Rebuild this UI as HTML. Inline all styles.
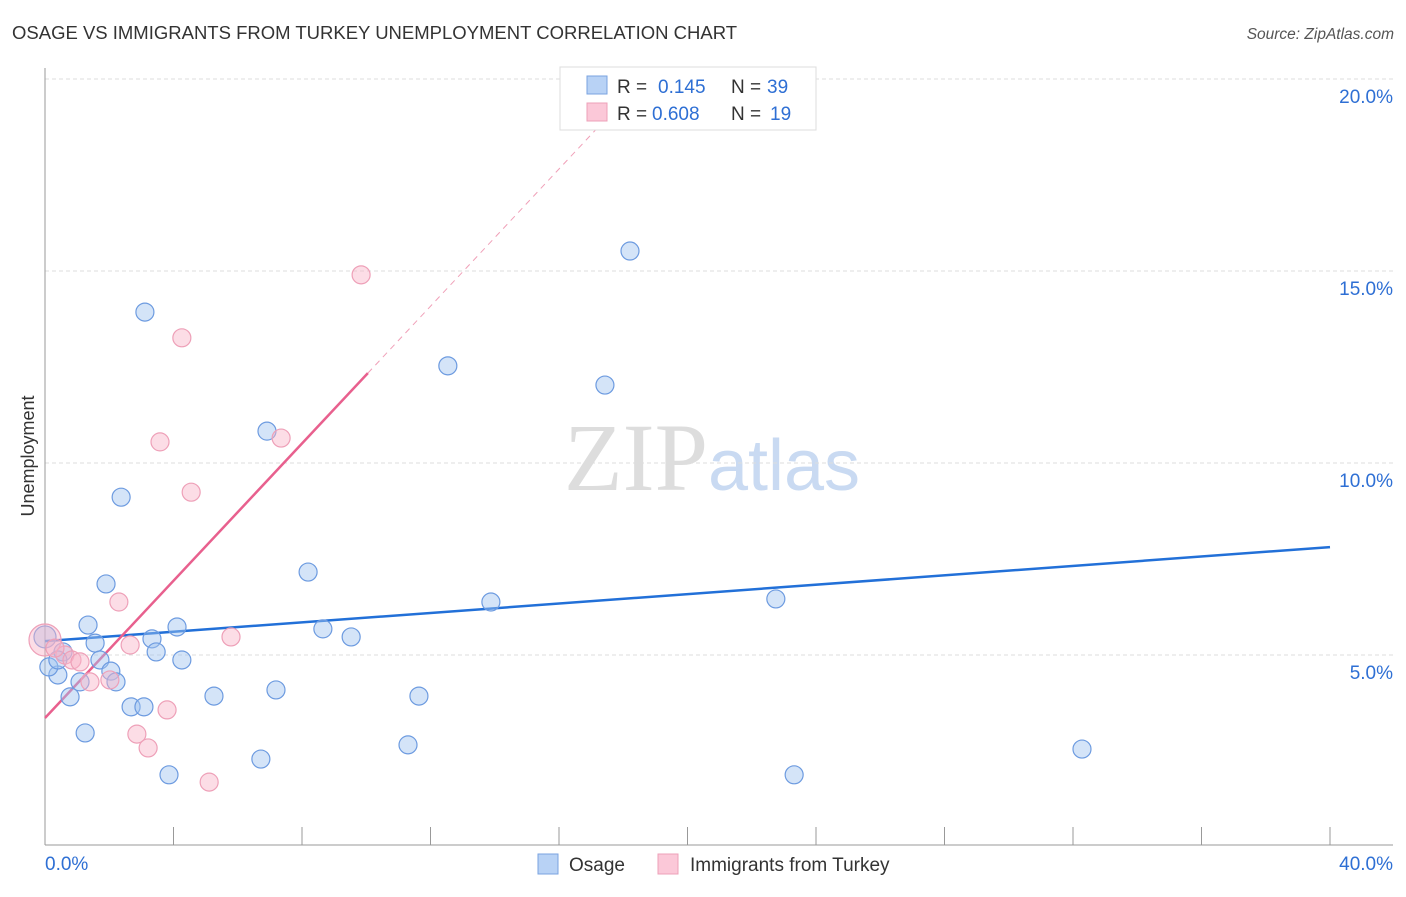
<!DOCTYPE html>
<html><head><meta charset="utf-8"><style>
body{margin:0;background:#fff;font-family:"Liberation Sans",sans-serif}
</style></head><body>
<svg id="chart" width="1406" height="892" xmlns="http://www.w3.org/2000/svg">
<text x="12" y="39" font-size="18.5" fill="#333">OSAGE VS IMMIGRANTS FROM TURKEY UNEMPLOYMENT CORRELATION CHART</text>
<text x="1394" y="39" font-size="15.5" font-style="italic" fill="#555" text-anchor="end">Source: ZipAtlas.com</text>
<text x="712" y="490" font-size="96" text-anchor="middle" font-family="Liberation Serif,serif" fill="#ddd">ZIP<tspan fill="#c9daf2" font-family="Liberation Sans,sans-serif" font-size="72">atlas</tspan></text>
<text transform="translate(34,456) rotate(-90)" font-size="18" fill="#333" text-anchor="middle">Unemployment</text>
<g id="grid"></g><g id="axes"></g><g id="trends"></g><g id="points"></g>
<g>
<rect x="560" y="67" width="256" height="63" fill="#fff" stroke="#ddd"/>
<rect x="587" y="76" width="20" height="18" fill="#b8d2f5" stroke="#7aa3e0"/>
<rect x="587" y="103" width="20" height="18" fill="#fbc8d8" stroke="#eea0b8"/>
<text x="617" y="93" font-size="19" fill="#333">R = <tspan fill="#2e6fd4" x="658">0.145</tspan><tspan x="731" fill="#333">N = </tspan><tspan fill="#2e6fd4" x="767">39</tspan></text>
<text x="617" y="120" font-size="19" fill="#333">R = <tspan fill="#2e6fd4" x="652">0.608</tspan><tspan x="731" fill="#333">N = </tspan><tspan fill="#2e6fd4" x="770">19</tspan></text>
</g>
<g>
<rect x="538" y="854" width="20" height="20" fill="#b8d2f5" stroke="#7aa3e0"/>
<text x="569" y="871" font-size="19" fill="#333">Osage</text>
<rect x="658" y="854" width="20" height="20" fill="#fbc8d8" stroke="#eea0b8"/>
<text x="690" y="871" font-size="19" fill="#333">Immigrants from Turkey</text>
</g>
</svg>
<script>
const blueX=[0,0.40,0.56,0.78,1.09,1.25,1.34,1.56,1.71,1.90,2.05,2.21,2.37,2.68,3.08,3.11,3.33,3.46,3.86,4.11,4.26,5.26,6.72,6.91,7.19,8.19,8.65,9.53,11.30,11.64,12.54,13.88,17.43,18.21,22.75,23.32,32.28,0.12,0.40];
const blueY=[5.47,4.48,5.08,3.91,4.30,2.97,5.78,5.31,4.87,6.85,4.58,4.30,9.11,3.65,3.65,13.93,5.42,5.08,1.88,5.73,4.87,3.93,2.29,10.83,4.09,7.16,5.68,5.47,2.66,3.93,12.53,6.38,12.03,15.52,6.46,1.88,2.55,4.69,4.87];
const pinkX=[0,0.62,0.84,1.40,1.09,2.02,2.30,2.65,2.86,3.21,3.58,3.80,4.26,4.55,5.11,5.79,7.35,9.84,0.31];
const pinkY=[5.39,5.0,4.87,4.30,4.82,4.35,6.38,5.26,2.94,2.58,10.55,3.57,13.26,9.24,1.69,5.47,10.65,14.90,5.18];
const yTicks=[5,10,15,20];
const xTickLabels=["0.0%","40.0%"];
const blueTrend=[5.36,7.81];
const pinkTrend=[3.36,12.34];
const NS="http://www.w3.org/2000/svg";
const xs=v=>45+v*32.125, ys=v=>847-v*38.4;
function mk(t,a,p){const e=document.createElementNS(NS,t);for(const k in a)e.setAttribute(k,a[k]);document.getElementById(p).appendChild(e);return e;}
yTicks.forEach(t=>{
 const l=mk('line',{x1:45,x2:1393,y1:ys(t),y2:ys(t),stroke:'#ddd','stroke-dasharray':'4,3'},'grid');
 
 
 const tx=mk('text',{x:1393,y:ys(t)+24,'font-size':19,fill:'#2e6fd4','text-anchor':'end'},'grid');
 
 
 tx.textContent=t.toFixed(1)+'%';
});
const ya=mk('line',{x1:45,x2:45,y1:68,y2:845,stroke:'#999'},'axes');


const xa=mk('line',{x1:45,x2:1393,y1:845,y2:845,stroke:'#999'},'axes');


for(let i=1;i<=10;i++){const t=mk('line',{x1:xs(i*4),x2:xs(i*4),y1:827,y2:845,stroke:'#999'},'axes');
 
 }
[[0,'start',45],[40,'end',1393]].forEach((d,i)=>{const t=mk('text',{x:d[2],y:870,'font-size':19,fill:'#2e6fd4','text-anchor':d[1]},'axes');
 
 
 t.textContent=xTickLabels[i];});
const bt=mk('line',{x1:xs(0),y1:ys(blueTrend[0]),x2:xs(40),y2:ys(blueTrend[1]),stroke:'#2270d8','stroke-width':2.5},'trends');


const slope=(pinkTrend[1]-pinkTrend[0])/10.05;
const pd=mk('line',{x1:xs(10.05),y1:ys(pinkTrend[1]),x2:xs(17.6),y2:ys(pinkTrend[0]+slope*17.6),stroke:'#f0a0b8','stroke-width':1,'stroke-dasharray':'6,5'},'trends');


const pt=mk('line',{x1:xs(0),y1:ys(pinkTrend[0]),x2:xs(10.05),y2:ys(pinkTrend[1]),stroke:'#e8608e','stroke-width':2.5},'trends');


blueX.forEach((x,i)=>{const c=mk('circle',{cx:xs(x),cy:ys(blueY[i]),r:i==0?11:9,fill:'rgba(160,196,240,0.45)',stroke:'#6d9be0','stroke-width':1.2},'points');
 
 });
pinkX.forEach((x,i)=>{const c=mk('circle',{cx:xs(x),cy:ys(pinkY[i]),r:i==0?16:9,fill:'rgba(248,180,200,0.45)',stroke:'#eea0b8','stroke-width':1.2},'points');
 
 });
</script>
</body></html>
